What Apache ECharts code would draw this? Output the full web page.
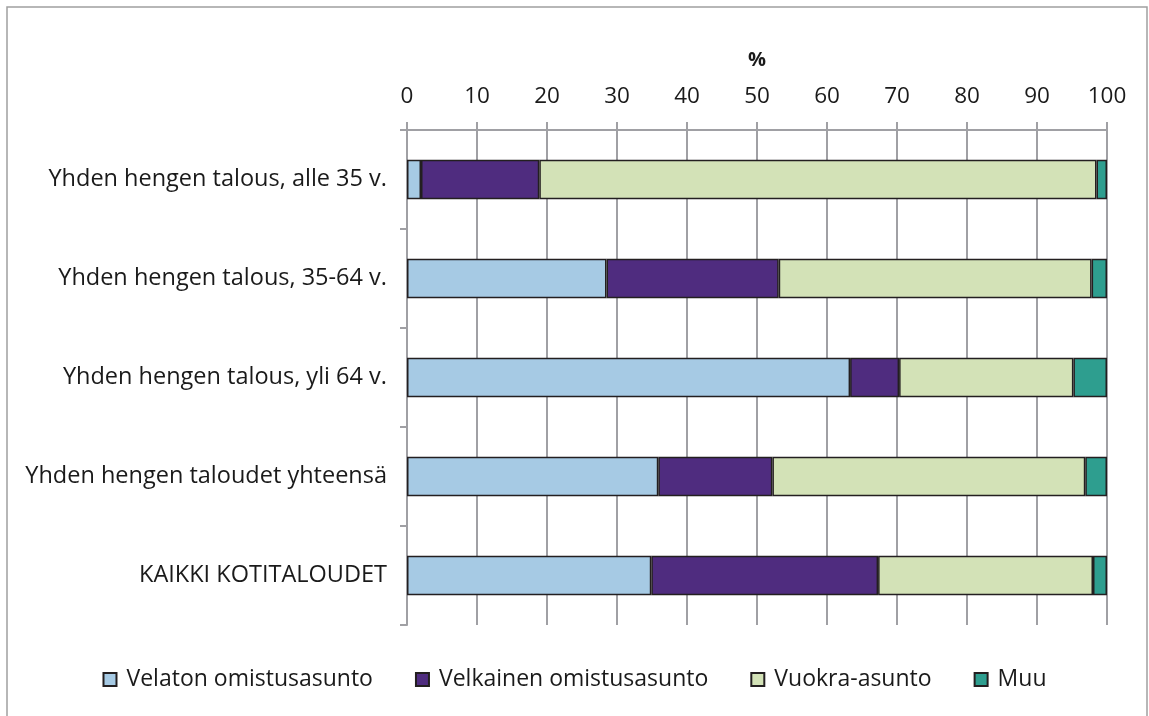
<!DOCTYPE html>
<html><head><meta charset="utf-8">
<script src="https://cdn.jsdelivr.net/npm/echarts@6/dist/echarts.min.js"></script>
<style>html,body{margin:0;padding:0;background:#fff}#c{width:1149px;height:716px}</style>
</head><body><div id="c"></div>
<script>
const categories = ["Yhden hengen talous, alle 35 v.", "Yhden hengen talous, 35-64 v.", "Yhden hengen talous, yli 64 v.", "Yhden hengen taloudet yhteensä", "KAIKKI KOTITALOUDET"];
const seriesNames = ["Velaton omistusasunto", "Velkainen omistusasunto", "Vuokra-asunto", "Muu"];
const velaton = [2.0, 28.5, 63.3, 35.9, 34.9];
const velkainen = [16.9, 24.6, 7.0, 16.3, 32.4];
const vuokra = [79.6, 44.7, 24.9, 44.7, 30.7];
const muu = [1.5, 2.2, 4.8, 3.1, 2.0];
const colors = ["#A6CAE4", "#4F2C7F", "#D3E2B7", "#2E9E8F"];
const FONT = "Open Sans";
const chart = echarts.init(document.getElementById('c'));
const data = [velaton, velkainen, vuokra, muu];
chart.setOption({
  animation: false,
  backgroundColor: '#fff',
  textStyle: {fontFamily: FONT},
  graphic: [{type: 'rect', shape: {x: 7, y: 7, width: 1140, height: 720}, style: {fill: 'none', stroke: '#A0A0A0', lineWidth: 1.5}}],
  grid: {left: 407, right: 42, top: 130, bottom: 91},
  legend: {
    bottom: 20, left: 'center', itemWidth: 13, itemHeight: 13, itemGap: 42,
    icon: 'rect',
    textStyle: {fontSize: 23, color: '#1a1a1a', fontFamily: FONT, padding: [0, 0, 0, 5]},
    data: seriesNames
  },
  xAxis: {
    type: 'value', position: 'top', min: 0, max: 100, interval: 10,
    name: '%', nameLocation: 'middle', nameGap: 60,
    nameTextStyle: {fontSize: 20, fontWeight: 'bold', color: '#1a1a1a', fontFamily: FONT},
    axisLine: {show: true, lineStyle: {color: '#A0A0A4', width: 2}},
    axisTick: {show: true, length: 8, lineStyle: {color: '#A0A0A4', width: 2}},
    axisLabel: {fontSize: 22.5, color: '#1a1a1a', margin: 22, fontFamily: FONT},
    splitLine: {show: true, lineStyle: {color: '#A0A0A4', width: 2}}
  },
  yAxis: {
    type: 'category', inverse: true, data: categories,
    axisLine: {show: true, lineStyle: {color: '#A0A0A4', width: 2}},
    axisTick: {show: true, length: 7, lineStyle: {color: '#A0A0A4', width: 2}},
    axisLabel: {fontSize: 23.5, color: '#1a1a1a', margin: 20, fontFamily: FONT}
  },
  series: seriesNames.map((n, i) => ({
    name: n, type: 'bar', stack: 'total', data: data[i],
    barCategoryGap: '60%',
    itemStyle: {color: colors[i], borderColor: '#231F20', borderWidth: 1.5}
  }))
});
</script></body></html>
